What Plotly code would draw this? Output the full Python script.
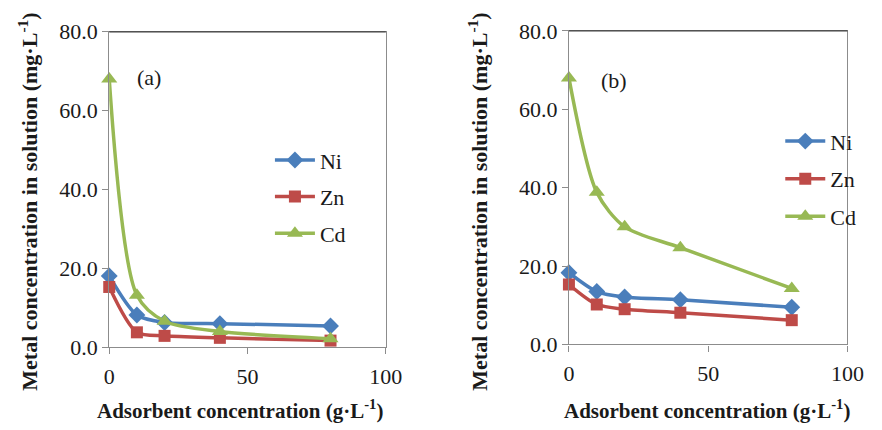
import plotly.graph_objects as go

x_vals = [0, 10, 20, 40, 80]
ni_a = [18.1, 8.2, 6.3, 6.0, 5.4]
zn_a = [15.3, 3.8, 2.9, 2.4, 1.7]
cd_a = [68.0, 13.2, 6.6, 4.0, 2.2]
ni_b = [18.3, 13.5, 12.1, 11.4, 9.5]
zn_b = [15.3, 10.2, 9.0, 8.1, 6.2]
cd_b = [68.0, 38.8, 30.0, 24.7, 14.3]
series_names = ["Ni", "Zn", "Cd"]
x_ticks = [0, 50, 100]
y_ticks = [0, 20, 40, 60, 80]
y_tick_text = ["0.0", "20.0", "40.0", "60.0", "80.0"]

colors = {"Ni": "#4a7ebb", "Zn": "#be4b48", "Cd": "#98b954"}
symbols = {"Ni": "diamond", "Zn": "square", "Cd": "triangle-up"}
msize = {"Ni": 13, "Zn": 12, "Cd": 14}
FONT = "Liberation Serif"
TXT = "#1a1a1a"

fig = go.Figure()
panels = [("x", "y", "legend", [ni_a, zn_a, cd_a]),
          ("x2", "y2", "legend2", [ni_b, zn_b, cd_b])]
for xa, ya, lg, data in panels:
    for name, vals in zip(series_names, data):
        fig.add_trace(go.Scatter(
            x=x_vals, y=vals, name=name, xaxis=xa, yaxis=ya, legend=lg,
            legendgroup=lg + name, cliponaxis=False,
            mode="lines+markers",
            line=dict(color=colors[name], width=3.5, shape="spline", smoothing=0.8),
            marker=dict(symbol=symbols[name], size=msize[name], color=colors[name]),
        ))

axis_common = dict(
    showgrid=False, zeroline=False, showline=True, linecolor="#8c8c8c", linewidth=1.3,
    mirror=True, ticks="outside", tickcolor="#8c8c8c", ticklen=6,
    tickfont=dict(family=FONT, size=22, color=TXT),
)
fig.update_layout(
    width=882, height=430, margin=dict(l=0, r=0, t=0, b=0),
    paper_bgcolor="white", plot_bgcolor="white",
    font=dict(family=FONT),
    xaxis=dict(domain=[106/882, 390/882], range=[0, 100], tickvals=x_ticks, anchor="y",
               ticklabelstandoff=3, **axis_common),
    yaxis=dict(domain=[1-356/430, 1-21/430], range=[0, 80], tickvals=y_ticks, ticktext=y_tick_text, anchor="x", **axis_common),
    xaxis2=dict(domain=[578/882, 864/882], range=[0, 100], tickvals=x_ticks, anchor="y2",
                ticklabelstandoff=3, **axis_common),
    yaxis2=dict(domain=[1-353/430, 1-20/430], range=[0, 80], tickvals=y_ticks, ticktext=y_tick_text, anchor="x2", **axis_common),
    legend=dict(x=271/882, y=1-135/430, xanchor="left", yanchor="top",
                font=dict(family=FONT, size=22, color=TXT), tracegroupgap=5,
                bgcolor="rgba(0,0,0,0)", itemwidth=40),
    legend2=dict(x=795/882, y=1-115/430, xanchor="left", yanchor="top",
                 font=dict(family=FONT, size=22, color=TXT), tracegroupgap=6,
                 bgcolor="rgba(0,0,0,0)", itemwidth=40),
    showlegend=True,
)

for xr in ["x domain", "x2 domain"]:
    yr = "y domain" if xr == "x domain" else "y2 domain"
    fig.add_shape(type="line", xref=xr, yref=yr, x0=0, x1=1, y0=1, y1=1,
                  line=dict(color="#404040", width=1.3))

ytitle = "Metal concentration in solution (mg·L<sup>-1</sup>)"
xtitle = "Adsorbent concentration (g·L<sup>-1</sup>)"
for text, x, y in [("(a)", 147, 70), ("(b)", 624, 73)]:
    fig.add_annotation(text=text, x=x/882, y=1-y/430, xref="paper", yref="paper",
                       xanchor="center", yanchor="middle",
                       showarrow=False, font=dict(family=FONT, size=22, color=TXT))
for x in [240, 720]:
    fig.add_annotation(text="<b>" + xtitle + "</b>", x=x/882, y=0, xref="paper", yref="paper",
                       xanchor="center", yanchor="bottom", yshift=-8,
                       showarrow=False, font=dict(family=FONT, size=21, color=TXT))
for x, y in [(23, 201), (485, 201)]:
    fig.add_annotation(text="<b>" + ytitle + "</b>", x=x/882, y=1-y/430, xref="paper", yref="paper",
                       xanchor="center", yanchor="middle",
                       textangle=-90, showarrow=False,
                       font=dict(family=FONT, size=22, color=TXT))

fig.write_html("out.html")
